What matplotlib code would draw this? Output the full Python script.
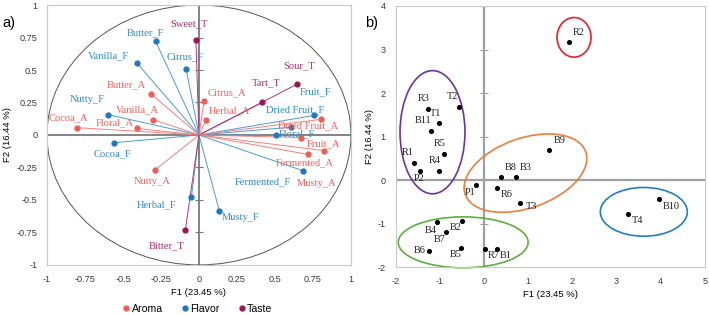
import matplotlib.pyplot as plt
from matplotlib.patches import Circle, Ellipse
from matplotlib.lines import Line2D

plt.rcParams["axes.unicode_minus"] = False

# panel a) loadings
attr_names = ["Sweet_T", "Butter_F", "Vanilla_F", "Citrus_F", "Butter_A", "Sour_T", "Tart_T",
              "Citrus_A", "Herbal_A", "Nutty_F", "Vanilla_A", "Cocoa_A", "Floral_A", "Cocoa_F",
              "Fruit_F", "Dried Fruit_F", "Floral_F", "Dried Fruit_A", "Fruit_A", "Fermented_A",
              "Musty_A", "Nutty_A", "Fermented_F", "Herbal_F", "Musty_F", "Bitter_T"]
attr_group = ["Taste", "Flavor", "Flavor", "Flavor", "Aroma", "Taste", "Taste",
              "Aroma", "Aroma", "Flavor", "Aroma", "Aroma", "Aroma", "Flavor",
              "Flavor", "Flavor", "Flavor", "Aroma", "Aroma", "Aroma",
              "Aroma", "Aroma", "Flavor", "Flavor", "Flavor", "Taste"]
f1_load = [-0.02, -0.285, -0.41, -0.085, -0.318, 0.643, 0.417,
           0.033, 0.046, -0.597, -0.30, -0.80, -0.41, -0.56,
           0.755, 0.607, 0.507, 0.673, 0.80, 0.72,
           0.82, -0.29, 0.684, -0.05, 0.134, -0.09]
f2_load = [0.73, 0.72, 0.556, 0.51, 0.318, 0.39, 0.25,
           0.26, 0.115, 0.156, 0.118, 0.056, 0.05, -0.06,
           0.15, 0.06, -0.003, -0.02, 0.12, -0.15,
           -0.12, -0.27, -0.275, -0.48, -0.585, -0.733]

# panel b) scores
obs_names = ["R2", "R3", "T2", "T1", "B11", "B9", "R5", "R1", "P2", "R4", "B8", "B3",
             "P1", "R6", "T3", "B10", "T4", "B4", "B2", "B7", "B6", "B5", "R7", "B1"]
f1_score = [1.92, -1.26, -0.57, -1.01, -1.20, 1.48, -0.90, -1.58, -1.45, -1.01, 0.38, 0.72,
            -0.17, 0.29, 0.81, 3.96, 3.27, -1.07, -0.50, -0.86, -1.25, -0.51, 0.02, 0.29]
f2_score = [3.17, 1.64, 1.68, 1.30, 1.13, 0.68, 0.60, 0.40, 0.20, 0.22, 0.07, 0.06,
            -0.115, -0.18, -0.53, -0.44, -0.77, -0.97, -0.94, -1.20, -1.62, -1.56, -1.58, -1.58]

point_col = {"Aroma": "#f25c54", "Flavor": "#1f77c4", "Taste": "#9c1456"}
text_col = {"Aroma": "#f0625c", "Flavor": "#2f8bcb", "Taste": "#a8306f"}
line_col = {"Aroma": "#f4807a", "Flavor": "#4a9bd4", "Taste": "#b2387a"}

# label offsets in pixels (dx, dy)
a_off = {"Sweet_T": (-7, 16), "Butter_F": (-10, 9), "Vanilla_F": (-28, 7), "Citrus_F": (-1, 12),
         "Butter_A": (-24, 9), "Sour_T": (2, 19), "Tart_T": (4, 20), "Citrus_A": (23, 8),
         "Herbal_A": (24, 9), "Nutty_F": (-21, 15), "Vanilla_A": (-16, 10), "Cocoa_A": (-9, 10),
         "Floral_A": (-22, 6), "Cocoa_F": (-1, -11), "Fruit_F": (2, 24), "Dried Fruit_F": (4, 17),
         "Floral_F": (21, 2), "Dried Fruit_A": (7, 12), "Fruit_A": (3, -24), "Fermented_A": (-4, -8),
         "Musty_A": (-7, -33), "Nutty_A": (-3, -11), "Fermented_F": (-40, -11), "Herbal_F": (-35, -7),
         "Musty_F": (21, -7), "Bitter_T": (-19, -16)}
b_off = {"R2": (10, 10), "R3": (-5, 10), "T2": (-6, 10), "T1": (-4, 10), "B11": (-8, 10),
         "B9": (10, 10), "R5": (-5, 10), "R1": (-6, 10), "P2": (-1, -7), "R4": (-5, 10),
         "B8": (10, 10), "B3": (10, 10), "P1": (-6, -7), "R6": (10, -7), "T3": (12, -3),
         "B10": (12, -7), "T4": (9, -7), "B4": (-6, -8), "B2": (-6, -7), "B7": (-6, -7),
         "B6": (-9, 0), "B5": (-6, -7), "R7": (9, -7), "B1": (9, -7)}

serif = "Liberation Serif"
sans = "Liberation Sans"

fig = plt.figure(figsize=(7.09, 3.15), dpi=100)

# ---------- a) ----------
ax1 = fig.add_axes([0.0663, 0.159, 0.4287, 0.825])
ax1.set_xlim(-1, 1)
ax1.set_ylim(-1, 1)
ticks_a = [-1, -0.75, -0.5, -0.25, 0, 0.25, 0.5, 0.75, 1]
ax1.set_xticks(ticks_a)
ax1.set_yticks(ticks_a)
ax1.set_xticklabels([f"{t:g}" for t in ticks_a])
ax1.set_yticklabels([f"{t:g}" for t in ticks_a])
ax1.tick_params(length=0, labelsize=6.6, pad=7, labelcolor="#3a3a3a")
for lab in ax1.get_xticklabels() + ax1.get_yticklabels():
    lab.set_family(sans)
for s in ax1.spines.values():
    s.set_color("#c8c8c8")
    s.set_linewidth(0.8)
ax1.axhline(0, color="#7a7a7a", lw=1.3, zorder=1)
ax1.axvline(0, color="#7a7a7a", lw=1.3, zorder=1)
ax1.plot([0] * len(ticks_a), ticks_a, ls="none", marker="_", ms=6, mew=0.8, color="#7a7a7a", zorder=1)
ax1.add_patch(Circle((0, 0), 1, fill=False, ec="#555555", lw=0.7, zorder=1))

for name, g, x, y in zip(attr_names, attr_group, f1_load, f2_load):
    ax1.plot([0, x], [0, y], color=line_col[g], lw=0.7, zorder=2)
    ax1.plot(x, y, "o", ms=3.5, color=point_col[g], zorder=3)
    dx, dy = a_off[name]
    ax1.annotate(name, (x, y), xytext=(dx, dy), textcoords="offset pixels",
                 ha="center", va="center", fontsize=7.6, family=serif, color=text_col[g])

ax1.set_xlabel("F1 (23.45 %)", fontsize=6.8, family=sans, labelpad=3)
ax1.set_ylabel("F2 (16.44 %)", fontsize=6.8, family=sans, labelpad=3)

handles = [Line2D([], [], ls="none", marker="o", ms=3.5, color=point_col[g]) for g in ["Aroma", "Flavor", "Taste"]]
fig.legend(handles, ["Aroma", "Flavor", "Taste"], loc="center", bbox_to_anchor=(0.278, 0.02),
           ncol=3, frameon=False, handletextpad=0.1, columnspacing=1.7, handlelength=0.8,
           prop={"family": sans, "size": 7.6})
fig.text(0.003, 0.927, "a)", fontsize=10.5, family=sans, va="center")

# ---------- b) ----------
ax2 = fig.add_axes([0.558, 0.152, 0.436, 0.829])
ax2.set_xlim(-2, 5)
ax2.set_ylim(-2, 4)
ticks_bx = [-2, -1, 0, 1, 2, 3, 4, 5]
ticks_by = [-2, -1, 0, 1, 2, 3, 4]
ax2.set_xticks(ticks_bx)
ax2.set_yticks(ticks_by)
ax2.tick_params(length=0, labelsize=6.6, pad=7, labelcolor="#3a3a3a")
for lab in ax2.get_xticklabels() + ax2.get_yticklabels():
    lab.set_family(sans)
for s in ax2.spines.values():
    s.set_color("#c8c8c8")
    s.set_linewidth(0.8)
ax2.axhline(0, color="#a0a0a0", lw=1.6, zorder=1)
ax2.axvline(0, color="#a0a0a0", lw=1.6, zorder=1)
ax2.plot([0] * len(ticks_by), ticks_by, ls="none", marker="_", ms=6, mew=0.8, color="#a0a0a0", zorder=1)

ax2.add_patch(Ellipse((2.04, 3.28), 0.77, 0.91, fill=False, ec="#e8202a", lw=1.2))
ax2.add_patch(Ellipse((-1.165, 1.10), 1.47, 2.83, fill=False, ec="#6a35a0", lw=1.2))
ax2.add_patch(Ellipse((0.94, 0.16), 2.9, 1.6, angle=20, fill=False, ec="#ef7d3c", lw=1.2))
ax2.add_patch(Ellipse((3.62, -0.73), 1.97, 1.12, fill=False, ec="#1f7fc8", lw=1.2))
ax2.add_patch(Ellipse((-0.47, -1.43), 2.94, 1.17, fill=False, ec="#5cb03c", lw=1.2, clip_on=False))

ax2.scatter(f1_score, f2_score, s=7, color="black", zorder=3)
for name, x, y in zip(obs_names, f1_score, f2_score):
    dx, dy = b_off[name]
    ax2.annotate(name, (x, y), xytext=(dx, dy), textcoords="offset pixels",
                 ha="center", va="center", fontsize=7.4, family=serif, color="#222222")

ax2.set_xlabel("F1 (23.45 %)", fontsize=6.8, family=sans, labelpad=3)
ax2.set_ylabel("F2 (16.44 %)", fontsize=6.8, family=sans, labelpad=3)
fig.text(0.515, 0.927, "b)", fontsize=10.5, family=sans, va="center")

fig.savefig("out.png", dpi=100)
